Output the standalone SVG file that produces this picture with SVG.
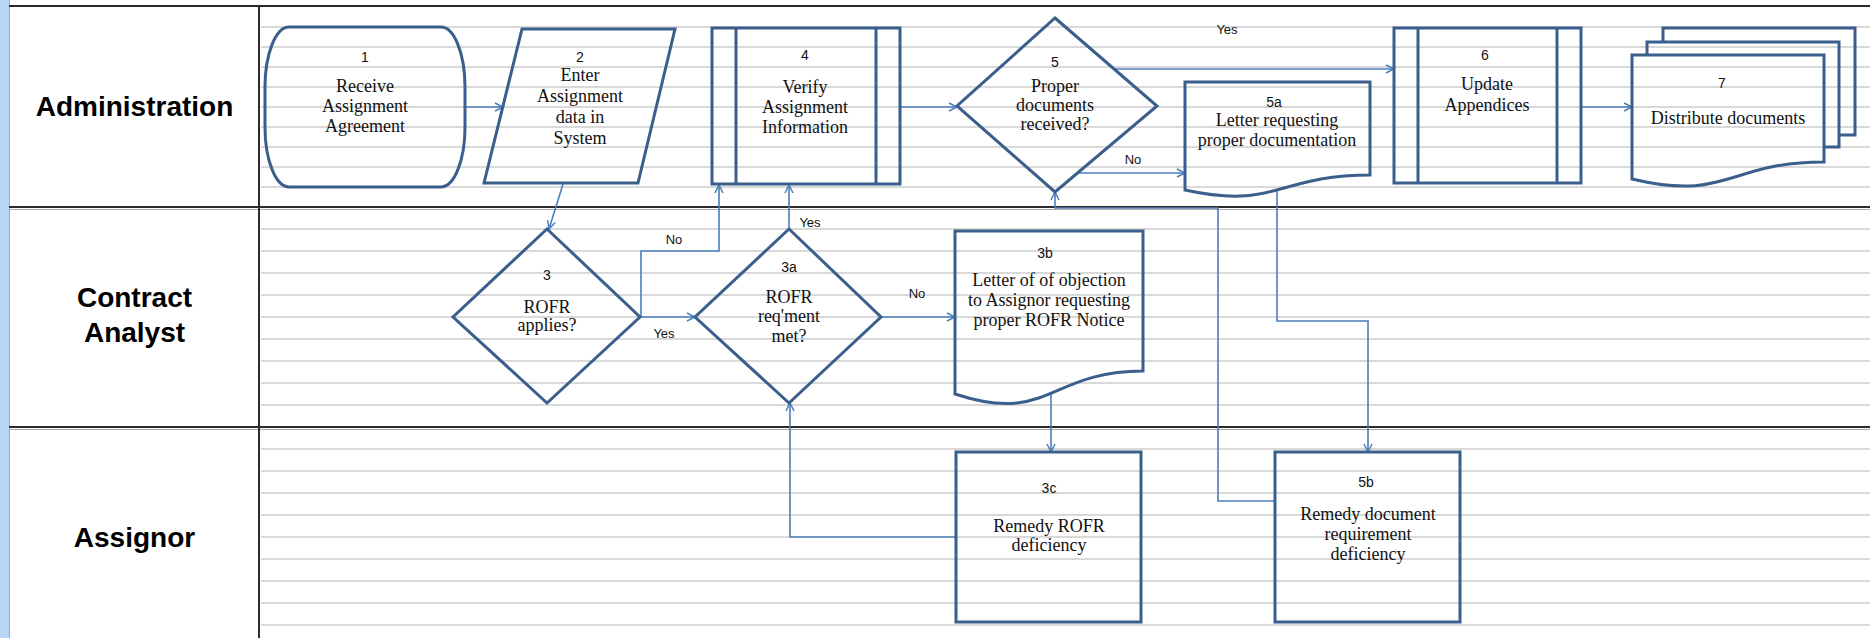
<svg xmlns="http://www.w3.org/2000/svg" width="1870" height="638" viewBox="0 0 1870 638">
<defs>
<style>
.grid line{stroke:#d9d9d9;stroke-width:2}
.div{stroke:#2b2b2b;stroke-width:2;fill:none}
.div2{stroke:#a8a8a8;stroke-width:1;fill:none}
.shape{fill:none;stroke:#3b5f8c;stroke-width:3;stroke-linejoin:miter}
.conn{fill:none;stroke:#4a7ebb;stroke-width:1.6}
.t{font-family:"Liberation Serif",serif;font-size:18px;fill:#111;text-anchor:middle}
.n{font-family:"Liberation Sans",sans-serif;font-size:14px;fill:#111;text-anchor:middle}
.lbl{font-family:"Liberation Sans",sans-serif;font-size:13px;fill:#111;text-anchor:middle}
.lane{font-family:"Liberation Sans",sans-serif;font-size:28px;font-weight:bold;fill:#000;text-anchor:middle}
</style>
<marker id="arr" viewBox="0 0 10 10" refX="9" refY="5" markerWidth="10" markerHeight="10" markerUnits="userSpaceOnUse" orient="auto">
<path d="M1,1 L9,5 L1,9" fill="none" stroke="#4a7ebb" stroke-width="1.5"/>
</marker>
</defs>
<rect x="0" y="0" width="1870" height="638" fill="#fff"/>
<rect x="0" y="0" width="9" height="638" fill="#b9d7f4"/>
<line x1="9.5" y1="0" x2="9.5" y2="638" class="div2"/>

<g class="grid">
<line x1="261" y1="27" x2="1870" y2="27"/><line x1="261" y1="47" x2="1870" y2="47"/><line x1="261" y1="67" x2="1870" y2="67"/><line x1="261" y1="87" x2="1870" y2="87"/><line x1="261" y1="107" x2="1870" y2="107"/><line x1="261" y1="127" x2="1870" y2="127"/><line x1="261" y1="147" x2="1870" y2="147"/><line x1="261" y1="167" x2="1870" y2="167"/><line x1="261" y1="187" x2="1870" y2="187"/>
<line x1="261" y1="229" x2="1870" y2="229"/><line x1="261" y1="251" x2="1870" y2="251"/><line x1="261" y1="273" x2="1870" y2="273"/><line x1="261" y1="295" x2="1870" y2="295"/><line x1="261" y1="317" x2="1870" y2="317"/><line x1="261" y1="339" x2="1870" y2="339"/><line x1="261" y1="361" x2="1870" y2="361"/><line x1="261" y1="383" x2="1870" y2="383"/><line x1="261" y1="405" x2="1870" y2="405"/>
<line x1="261" y1="449" x2="1870" y2="449"/><line x1="261" y1="471" x2="1870" y2="471"/><line x1="261" y1="493" x2="1870" y2="493"/><line x1="261" y1="515" x2="1870" y2="515"/><line x1="261" y1="537" x2="1870" y2="537"/><line x1="261" y1="559" x2="1870" y2="559"/><line x1="261" y1="581" x2="1870" y2="581"/><line x1="261" y1="603" x2="1870" y2="603"/><line x1="261" y1="625" x2="1870" y2="625"/>
</g>

<g id="lanes">
<line x1="9" y1="6" x2="1870" y2="6" class="div"/>
<line x1="9" y1="207" x2="1870" y2="207" class="div"/>
<line x1="9" y1="209.5" x2="1870" y2="209.5" class="div2"/>
<line x1="9" y1="427" x2="1870" y2="427" class="div"/>
<line x1="9" y1="429.5" x2="1870" y2="429.5" class="div2"/>
<line x1="259" y1="6" x2="259" y2="638" class="div"/>
<text class="lane" x="134.5" y="116">Administration</text>
<text class="lane" x="134.5" y="307">Contract</text>
<text class="lane" x="134.5" y="342">Analyst</text>
<text class="lane" x="134.5" y="547">Assignor</text>
</g>

<g id="connectors">
<path class="conn" d="M465,107 H503" marker-end="url(#arr)"/>
<path class="conn" d="M563,184 L549,229" marker-end="url(#arr)"/>
<path class="conn" d="M640,317 H695" marker-end="url(#arr)"/>
<path class="conn" d="M641,317 V251 H719 V185" marker-end="url(#arr)"/>
<path class="conn" d="M789,229 V185" marker-end="url(#arr)"/>
<path class="conn" d="M881,317 H955" marker-end="url(#arr)"/>
<path class="conn" d="M1051,394 V452" marker-end="url(#arr)"/>
<path class="conn" d="M956,537 H790 V403" marker-end="url(#arr)"/>
<path class="conn" d="M900,107 H957" marker-end="url(#arr)"/>
<path class="conn" d="M1115,69 H1394" marker-end="url(#arr)"/>
<path class="conn" d="M1078,173 H1185" marker-end="url(#arr)"/>
<path class="conn" d="M1277,190 V321 H1368 V452" marker-end="url(#arr)"/>
<path class="conn" d="M1275,501 H1218 V208 H1055 V192" marker-end="url(#arr)"/>
<path class="conn" d="M1581,107 H1632" marker-end="url(#arr)"/>
<text class="lbl" x="1227" y="34">Yes</text>
<text class="lbl" x="1133" y="164">No</text>
<text class="lbl" x="674" y="244">No</text>
<text class="lbl" x="664" y="338">Yes</text>
<text class="lbl" x="810" y="227">Yes</text>
<text class="lbl" x="917" y="298">No</text>
</g>

<g id="node1">
<rect class="shape" x="265" y="27" width="200" height="160" rx="24" ry="60"/>
<text class="n" x="365" y="62">1</text>
<text class="t" x="365" y="92">Receive</text>
<text class="t" x="365" y="112">Assignment</text>
<text class="t" x="365" y="132">Agreement</text>
</g>

<g id="node2">
<path class="shape" d="M522,29 H675 L638,183 H484 Z"/>
<text class="n" x="580" y="62">2</text>
<text class="t" x="580" y="81">Enter</text>
<text class="t" x="580" y="102">Assignment</text>
<text class="t" x="580" y="123">data in</text>
<text class="t" x="580" y="144">System</text>
</g>

<g id="node4">
<rect class="shape" x="712" y="28" width="188" height="156"/>
<line class="shape" x1="736" y1="28" x2="736" y2="184"/>
<line class="shape" x1="876" y1="28" x2="876" y2="184"/>
<text class="n" x="805" y="60">4</text>
<text class="t" x="805" y="93">Verify</text>
<text class="t" x="805" y="113">Assignment</text>
<text class="t" x="805" y="133">Information</text>
</g>

<g id="node5">
<path class="shape" d="M1055,18 L1157,106 L1055,192 L957,106 Z"/>
<text class="n" x="1055" y="67">5</text>
<text class="t" x="1055" y="92">Proper</text>
<text class="t" x="1055" y="111">documents</text>
<text class="t" x="1055" y="130">received?</text>
</g>

<g id="node5a">
<path class="shape" d="M1185,82 H1370 V175 C1277,175 1277,210 1185,190 Z"/>
<text class="n" x="1274" y="107">5a</text>
<text class="t" x="1277" y="126">Letter requesting</text>
<text class="t" x="1277" y="146">proper documentation</text>
</g>

<g id="node6">
<rect class="shape" x="1394" y="28" width="187" height="155"/>
<line class="shape" x1="1418" y1="28" x2="1418" y2="183"/>
<line class="shape" x1="1557" y1="28" x2="1557" y2="183"/>
<text class="n" x="1485" y="60">6</text>
<text class="t" x="1487" y="90">Update</text>
<text class="t" x="1487" y="111">Appendices</text>
</g>

<g id="node7">
<path class="shape" d="M1663,42 V28 H1855 V135 H1839"/>
<path class="shape" d="M1647,55 V42 H1839 V147 H1824"/>
<path class="shape" d="M1632,55 H1824 V162 C1728,162 1728,202 1632,179 Z"/>
<text class="n" x="1722" y="88">7</text>
<text class="t" x="1728" y="124">Distribute documents</text>
</g>

<g id="node3">
<path class="shape" d="M547,229 L640,317 L547,403 L453,317 Z"/>
<text class="n" x="547" y="280">3</text>
<text class="t" x="547" y="313">ROFR</text>
<text class="t" x="547" y="331">applies?</text>
</g>

<g id="node3a">
<path class="shape" d="M789,229 L881,317 L789,403 L695,317 Z"/>
<text class="n" x="789" y="272">3a</text>
<text class="t" x="789" y="303">ROFR</text>
<text class="t" x="789" y="322">req'ment</text>
<text class="t" x="789" y="342">met?</text>
</g>

<g id="node3b">
<path class="shape" d="M955,231 H1143 V371 C1049,371 1049,425 955,394 Z"/>
<text class="n" x="1045" y="258">3b</text>
<text class="t" x="1049" y="286">Letter of of objection</text>
<text class="t" x="1049" y="306">to Assignor requesting</text>
<text class="t" x="1049" y="326">proper ROFR Notice</text>
</g>

<g id="node3c">
<rect class="shape" x="956" y="452" width="185" height="170"/>
<text class="n" x="1049" y="493">3c</text>
<text class="t" x="1049" y="532">Remedy ROFR</text>
<text class="t" x="1049" y="551">deficiency</text>
</g>

<g id="node5b">
<rect class="shape" x="1275" y="452" width="185" height="170"/>
<text class="n" x="1366" y="487">5b</text>
<text class="t" x="1368" y="520">Remedy document</text>
<text class="t" x="1368" y="540">requirement</text>
<text class="t" x="1368" y="560">deficiency</text>
</g>
</svg>
